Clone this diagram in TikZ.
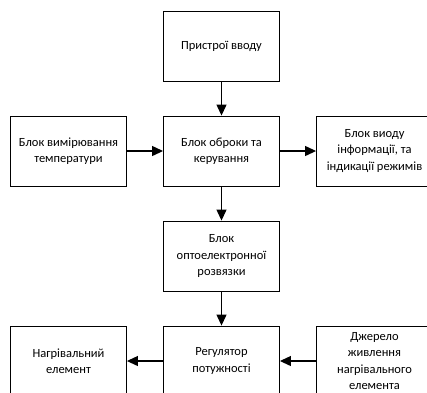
\documentclass[tikz,border=0pt]{standalone}
\usepackage{fontspec}
\setmainfont{Carlito}
\usetikzlibrary{arrows.meta}
\begin{document}
\begin{tikzpicture}[x=1pt,y=-1pt,
  blk/.style={draw,line width=0.9pt,minimum width=116pt,minimum height=70pt,align=center,inner sep=0pt,
    font=\fontsize{12.5}{16.5}\selectfont},
  arr/.style={line width=1.2pt,-{Triangle[length=11pt,width=10pt]}}]
\useasboundingbox (0,0) rectangle (427,392);
\clip (0,0) rectangle (427,392);
\node[blk] (inp) at (221.5,46.5) {Пристрої вводу};
\node[blk] (ctl) at (221.5,151) {Блок оброки та\\керування};
\node[blk] (tmp) at (68.5,151) {Блок вимірювання\\температури};
\node[blk] (out) at (374.5,151) {Блок виоду\\інформації, та\\індикації режимів};
\node[blk] (opt) at (221.5,256) {Блок\\оптоелектронної\\розвязки};
\node[blk] (reg) at (221.5,361) {Регулятор\\потужності};
\node[blk] (hea) at (68.5,361) {Нагрівальний\\елемент};
\node[blk] (pwr) at (374.5,361) {Джерело\\живлення\\нагрівального\\елемента};
\draw[arr] (inp) -- (ctl);
\draw[arr] (tmp) -- (ctl);
\draw[arr] (ctl) -- (out);
\draw[arr] (ctl) -- (opt);
\draw[arr] (opt) -- (reg);
\draw[arr] (reg) -- (hea);
\draw[arr] (pwr) -- (reg);
\end{tikzpicture}
\end{document}
